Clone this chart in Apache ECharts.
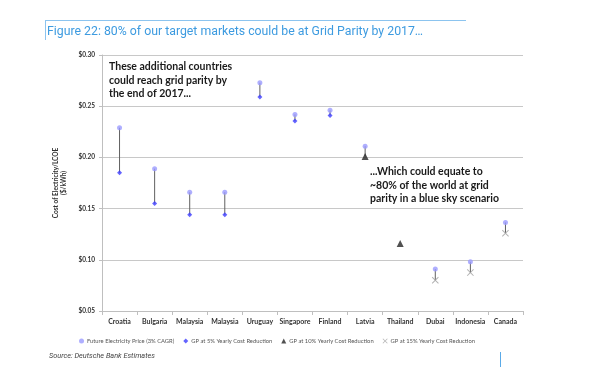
<!DOCTYPE html>
<html><head><meta charset="utf-8">
<script src="https://cdn.jsdelivr.net/npm/echarts@6/dist/echarts.min.js"></script>
<style>html,body{margin:0;padding:0;background:#fff}#c{width:596px;height:386px}</style>
</head><body><div id="c"></div>
<script>
const categories = ['Croatia','Bulgaria','Malaysia','Malaysia','Uruguay','Singapore','Finland','Latvia','Thailand','Dubai','Indonesia','Canada'];
const futurePrice = [0.229, 0.189, 0.166, 0.166, 0.273, 0.242, 0.246, 0.211, null, 0.091, 0.098, 0.1365];
const gp5 = [0.185, 0.155, 0.144, 0.144, 0.259, 0.2355, 0.241, null, null, null, null, null];
const gp10 = [null, null, null, null, null, null, null, 0.201, 0.116, null, null, null];
const gp15 = [null, null, null, null, null, null, null, null, null, 0.080, 0.0875, 0.126];
const yTicks = [0.05, 0.10, 0.15, 0.20, 0.25, 0.30];
const seriesNames = ['Future Electricity Price (3% CAGR)','GP at 5% Yearly Cost Reduction','GP at 10% Yearly Cost Reduction','GP at 15% Yearly Cost Reduction'];

const toPts = arr => arr.map((v,i)=> v==null ? null : [i, v]).filter(d=>d);
const ranges = categories.map((c,i)=>{
  const g = [gp5[i], gp10[i], gp15[i]].filter(v=>v!=null);
  if (futurePrice[i]==null || !g.length) return null;
  return [i, futurePrice[i], Math.min(...g)];
}).filter(d=>d);

const xPath = 'path://M0,1L1,0L5,4L9,0L10,1L6,5L10,9L9,10L5,6L1,10L0,9L4,5Z';
const FONT = 'Lato';
const chart = echarts.init(document.getElementById('c'), null, {renderer:'canvas'});
chart.setOption({
  animation:false,
  textStyle:{fontFamily:FONT},
  grid:{left:102, right:73, top:55, bottom:75},
  xAxis:{type:'category', data:categories, boundaryGap:true,
    axisLine:{lineStyle:{color:'#bfbfbf'}},
    axisTick:{show:true, length:4, lineStyle:{color:'#bfbfbf'}},
    axisLabel:{color:'#333', fontWeight:'bold', fontSize:7, margin:7, interval:0}},
  yAxis:{type:'value', min:yTicks[0], max:yTicks[yTicks.length-1], interval:0.05,
    name:'Cost of Electricity/LCOE\n($/kWh)', nameLocation:'middle', nameGap:24, nameRotate:90,
    nameTextStyle:{color:'#333', fontWeight:'bold', fontSize:6.5, lineHeight:8},
    axisLine:{show:true, lineStyle:{color:'#bfbfbf'}},
    axisTick:{show:true, length:3, lineStyle:{color:'#bfbfbf'}},
    splitLine:{lineStyle:{color:'#c8c8c8'}},
    axisLabel:{color:'#333', fontWeight:'bold', fontSize:6.5, margin:7,
      formatter:v=>'$'+v.toFixed(2)}},
  legend:{left:74, top:333, itemWidth:5, itemHeight:5, itemGap:9,
    textStyle:{color:'#555', fontSize:5.8, fontFamily:FONT, padding:[0,0,0,-2]},
    data:[{name:seriesNames[0], icon:'circle'},{name:seriesNames[1], icon:'diamond'},{name:seriesNames[2], icon:'triangle'},{name:seriesNames[3], icon:xPath}]},
  series:[
    {type:'custom', name:'range', data:ranges, z:1,
      encode:{x:0, y:[1,2]},
      renderItem:(params, api)=>{
        const x = api.value(0);
        const p1 = api.coord([x, api.value(1)]);
        const p2 = api.coord([x, api.value(2)]);
        return {type:'line', shape:{x1:p1[0], y1:p1[1], x2:p2[0], y2:p2[1]}, style:{stroke:'#606060', lineWidth:1}};
      }},
    {type:'scatter', name:seriesNames[0], data:toPts(futurePrice), symbol:'circle', symbolSize:5, itemStyle:{color:'#9b9bff'}, z:3},
    {type:'scatter', name:seriesNames[1], data:toPts(gp5), symbol:'diamond', symbolSize:5, itemStyle:{color:'#3d3dff'}, z:3},
    {type:'scatter', name:seriesNames[2], data:toPts(gp10), symbol:'triangle', symbolSize:7, itemStyle:{color:'#262626'}, z:3},
    {type:'scatter', name:seriesNames[3], data:toPts(gp15), symbol:xPath, symbolSize:7, itemStyle:{color:'#a0a0a0'}, z:3}
  ],
  graphic:[
    {type:'line', shape:{x1:45, y1:20.5, x2:466, y2:20.5}, style:{stroke:'#8cc4ef', lineWidth:1}},
    {type:'line', shape:{x1:45.5, y1:20, x2:45.5, y2:40}, style:{stroke:'#8cc4ef', lineWidth:1}},
    {type:'text', left:47, top:26, style:{text:'Figure 22: 80% of our target markets could be at Grid Parity by 2017…', fill:'#3d9be0', font:'12.3px Roboto'}},
    {type:'text', left:109, top:60, style:{text:'These additional countries\ncould reach grid parity by\nthe end of 2017...', fill:'#1a1a1a', font:'bold 10.5px Lato', lineHeight:13.5}},
    {type:'text', left:370, top:165, style:{text:'...Which could equate to\n~80% of the world at grid\nparity in a blue sky scenario', fill:'#1a1a1a', font:'bold 10.5px Lato', lineHeight:13.5}},
    {type:'text', left:49, top:353, style:{text:'Source: Deutsche Bank Estimates', fill:'#444', font:'italic 7.3px Roboto'}},
    {type:'line', shape:{x1:500.5, y1:352, x2:500.5, y2:367}, style:{stroke:'#5aaae8', lineWidth:1}}
  ]
});
</script></body></html>
